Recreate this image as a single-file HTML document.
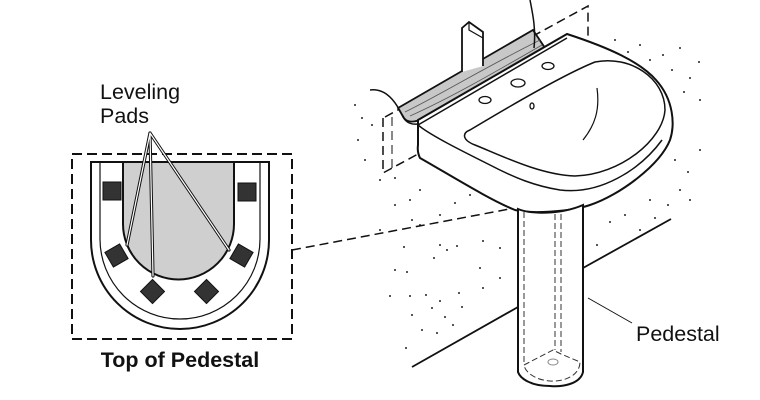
<!DOCTYPE html>
<html><head><meta charset="utf-8"><style>html,body{margin:0;padding:0;background:#fff}svg{display:block}text{font-family:"Liberation Sans",Arial,sans-serif;fill:#111}</style></head>
<body>
<svg width="760" height="400" viewBox="0 0 760 400" xmlns="http://www.w3.org/2000/svg">
<g fill="#222">
<circle cx="615" cy="40" r="1"/><circle cx="628" cy="52" r="1"/><circle cx="640" cy="45" r="1"/><circle cx="650" cy="60" r="1"/><circle cx="663" cy="55" r="1"/><circle cx="672" cy="70" r="1"/><circle cx="680" cy="48" r="1"/><circle cx="690" cy="78" r="1"/><circle cx="684" cy="92" r="1"/><circle cx="699" cy="62" r="1"/><circle cx="700" cy="100" r="1"/><circle cx="675" cy="160" r="1"/><circle cx="688" cy="172" r="1"/><circle cx="680" cy="190" r="1"/><circle cx="668" cy="205" r="1"/><circle cx="655" cy="218" r="1"/><circle cx="640" cy="230" r="1"/><circle cx="625" cy="215" r="1"/><circle cx="610" cy="222" r="1"/><circle cx="597" cy="245" r="1"/><circle cx="700" cy="150" r="1"/><circle cx="690" cy="200" r="1"/><circle cx="650" cy="200" r="1"/>
<circle cx="355" cy="105" r="1"/><circle cx="362" cy="118" r="1"/><circle cx="358" cy="140" r="1"/><circle cx="372" cy="125" r="1"/><circle cx="365" cy="160" r="1"/><circle cx="380" cy="180" r="1"/><circle cx="395" cy="178" r="1"/><circle cx="410" cy="200" r="1"/><circle cx="420" cy="190" r="1"/><circle cx="412" cy="220" r="1"/><circle cx="440" cy="215" r="1"/><circle cx="455" cy="203" r="1"/><circle cx="470" cy="195" r="1"/><circle cx="404" cy="247" r="1"/><circle cx="420" cy="225" r="1"/><circle cx="440" cy="245" r="1"/><circle cx="434" cy="258" r="1"/><circle cx="447" cy="250" r="1"/><circle cx="457" cy="246" r="1"/><circle cx="483" cy="241" r="1"/><circle cx="500" cy="248" r="1"/><circle cx="395" cy="270" r="1"/><circle cx="407" cy="272" r="1"/><circle cx="410" cy="296" r="1"/><circle cx="426" cy="295" r="1"/><circle cx="440" cy="301" r="1"/><circle cx="459" cy="293" r="1"/><circle cx="483" cy="288" r="1"/><circle cx="390" cy="296" r="1"/><circle cx="412" cy="315" r="1"/><circle cx="432" cy="308" r="1"/><circle cx="445" cy="317" r="1"/><circle cx="462" cy="307" r="1"/><circle cx="422" cy="330" r="1"/><circle cx="437" cy="333" r="1"/><circle cx="453" cy="325" r="1"/><circle cx="406" cy="348" r="1"/><circle cx="480" cy="268" r="1"/><circle cx="500" cy="278" r="1"/><circle cx="380" cy="230" r="1"/><circle cx="395" cy="205" r="1"/>
</g>
<g fill="none" stroke="#111" stroke-width="1.5" stroke-dasharray="9,5">
<path d="M385,117 L588,6 L588,42"/><path d="M383,118 L383,173 L418,154"/><path d="M392,117 L392,170" stroke-width="1"/>
<path d="M292,250 L520,207"/>
</g>
<g stroke="#111" stroke-width="1.8" fill="none">
<path d="M412,367 L518,307"/><path d="M583,268 L671,219"/>
<path d="M588,298 L632,323" stroke-width="1"/>
</g>
<path d="M398,108 L533,30 L545,48 L420,120 Q408,124 404,118 Z" fill="#c8c8c8" stroke="#111" stroke-width="1.8"/>
<path d="M405,112 C440,95 480,70 540,40 M410,116 C450,98 490,75 542,45" fill="none" stroke="#555" stroke-width="0.8"/>
<path d="M462,72 L462,28 L469,22 L483,32 L483,66" fill="#fff" stroke="#111" stroke-width="1.8"/>
<path d="M469,22 L469,30 L483,38" fill="none" stroke="#111" stroke-width="1.2"/>
<path d="M530,0 C533,15 536,30 534,48" fill="none" stroke="#111" stroke-width="1.5"/>
<path d="M370,90 C385,88 395,100 402,115 C405,122 410,125 418,124" fill="none" stroke="#111" stroke-width="1.5"/>
<path d="M418,120 L567,34 C610,48 640,62 656,80 C674,100 675,125 670,140 C660,165 620,195 590,205 C570,212 530,214 515,210 C490,200 450,175 420,158 Q417,152 418,145 Z" fill="#fff" stroke="#111" stroke-width="2"/>
<path d="M418,125 L567,38 M418,125 C430,135 460,150 490,165 C515,178 535,186 560,190 C600,195 640,170 662,140" fill="none" stroke="#111" stroke-width="1.5"/>
<path d="M470,130 C520,100 570,72 595,62 C630,55 665,78 665,110 C663,140 620,175 575,176 C540,175 500,155 475,145 C462,140 462,133 470,130 Z" fill="#fff" stroke="#111" stroke-width="1.5"/>
<path d="M597,88 C600,110 595,125 583,140" fill="none" stroke="#111" stroke-width="1.2"/>
<g fill="#fff" stroke="#111" stroke-width="1.3">
<ellipse cx="485" cy="100" rx="6" ry="3.5"/><ellipse cx="518" cy="83" rx="7" ry="4"/><ellipse cx="548" cy="66" rx="6" ry="3.5"/><ellipse cx="532" cy="106" rx="2" ry="3"/>
</g>
<path d="M518,209 C530,214 560,215 583,205 L583,372 C580,385 560,387 550,386 C530,386 520,378 518,372 Z" fill="#fff" stroke="#111" stroke-width="2"/>
<g fill="none" stroke="#333" stroke-width="1" stroke-dasharray="6,3">
<path d="M524,212 L524,365 L553,350 L561,354 L580,362 C580,375 565,382 550,381 C535,380 525,372 524,365"/>
<path d="M555,214 L555,350 M561,214 L561,352"/>
</g>
<ellipse cx="553" cy="362" rx="5" ry="3" fill="none" stroke="#888" stroke-width="1"/>
<text x="636" y="341" font-size="21.5">Pedestal</text>
<rect x="72" y="154" width="220" height="185" fill="none" stroke="#111" stroke-width="2" stroke-dasharray="10,5"/>
<path d="M91,162 L269,162 L269,240 A89,89 0 0 1 91,240 Z" fill="#fff" stroke="#111" stroke-width="2"/>
<path d="M100,162 L100,239 A80,80 0 0 0 260,239 L260,162" fill="none" stroke="#111" stroke-width="1.2"/>
<path d="M123,162 L234,162 L234,224 A55.5,55.5 0 0 1 123,224 Z" fill="#cfcfcf" stroke="#111" stroke-width="2"/>
<g fill="#333" stroke="#111" stroke-width="1">
<rect x="103" y="182" width="18" height="18"/><rect x="238" y="183" width="18" height="18"/>
<rect x="108" y="247" width="17" height="17" transform="rotate(-30 116.5 255.5)"/>
<rect x="144" y="283" width="17" height="17" transform="rotate(-45 152.5 291.5)"/>
<rect x="198" y="283" width="17" height="17" transform="rotate(45 206.5 291.5)"/>
<rect x="233" y="247" width="17" height="17" transform="rotate(30 241.5 255.5)"/>
</g>
<g fill="none" stroke-linecap="round">
<path d="M150,133 L127,245 M150,133 L153,276 M150,133 L229,250" stroke="#111" stroke-width="3.2"/>
<path d="M150,133 L127,245 M150,133 L153,276 M150,133 L229,250" stroke="#fff" stroke-width="1.2"/>
</g>
<text x="100" y="99" font-size="21.5">Leveling</text>
<text x="100" y="123" font-size="21.5">Pads</text>
<text x="180" y="367" font-size="21.5" font-weight="bold" text-anchor="middle">Top of Pedestal</text>
</svg>
</body></html>
